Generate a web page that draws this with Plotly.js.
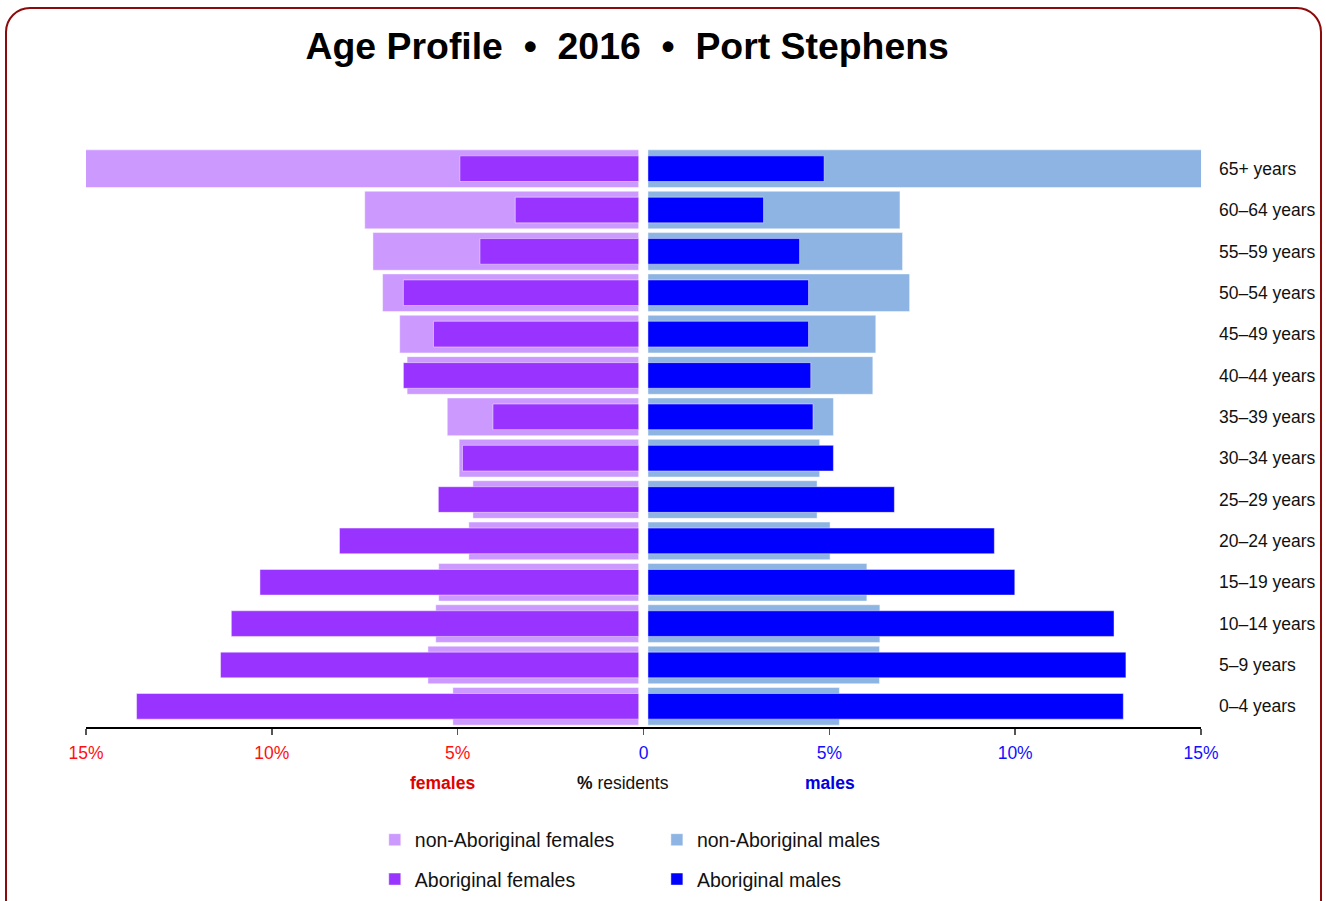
<!DOCTYPE html>
<html>
<head>
<meta charset="utf-8">
<script src="https://cdn.plot.ly/plotly-3.0.1.min.js"></script>
<style>
  html, body { margin: 0; padding: 0; background: #fff; overflow: hidden; }
  #frame { position: absolute; left: 5px; top: 7px; width: 1317px; height: 1000px;
           border: 2px solid #8b0a0a; border-radius: 25px; box-sizing: border-box; pointer-events: none; }
  #chart { position: absolute; left: 0; top: 0; width: 1326px; height: 901px; }
</style>
</head>
<body>
<div id="chart"></div>
<div id="frame"></div>
<script>
// Age groups, bottom to top
const ageGroups = ['0–4 years','5–9 years','10–14 years','15–19 years','20–24 years','25–29 years',
  '30–34 years','35–39 years','40–44 years','45–49 years','50–54 years','55–59 years','60–64 years','65+ years'];

// % residents, same order as ageGroups
const nonAbFemales = [5.00, 5.67, 5.46, 5.38, 4.57, 4.46, 4.83, 5.15, 6.23, 6.43, 6.89, 7.15, 7.37, 14.92];
const abFemales    = [13.51, 11.25, 10.96, 10.19, 8.05, 5.39, 4.74, 3.92, 6.33, 5.52, 6.33, 4.27, 3.32, 4.81];
const nonAbMales   = [5.15, 6.23, 6.24, 5.89, 4.90, 4.55, 4.62, 4.99, 6.05, 6.13, 7.04, 6.85, 6.78, 14.96];
const abMales      = [12.79, 12.86, 12.54, 9.87, 9.32, 6.63, 4.99, 4.44, 4.38, 4.32, 4.32, 4.08, 3.11, 4.74];

const tickValues = [-15, -10, -5, 0, 5, 10, 15];
const tickLabels = ['15%', '10%', '5%', '0', '5%', '10%', '15%'];

const RED = '#ff1010', BLUE = '#1010ff';
const FONT = '"Liberation Sans", Arial, sans-serif';

const tickText = tickLabels.map((t, i) =>
  '<span style="color:' + (tickValues[i] < 0 ? RED : BLUE) + '">' + t + '</span>');

const gapF = -0.13, gapM = 0.12;
const edge = { color: 'rgba(255,255,255,0.45)', width: 1 };

const traces = [
  { type: 'bar', orientation: 'h', name: 'non-Aboriginal females', y: ageGroups,
    x: nonAbFemales.map(v => -v), base: gapF, width: 0.91,
    marker: { color: '#cc99ff', line: edge }, legend: 'legend', legendgroup: 'a', cliponaxis: false, hoverinfo: 'skip' },
  { type: 'bar', orientation: 'h', name: 'non-Aboriginal males', y: ageGroups,
    x: nonAbMales, base: gapM, width: 0.91,
    marker: { color: '#8db4e2', line: edge }, legend: 'legend2', legendgroup: 'b', cliponaxis: false, hoverinfo: 'skip' },
  { type: 'bar', orientation: 'h', name: 'Aboriginal females', y: ageGroups,
    x: abFemales.map(v => -v), base: gapF, width: 0.62,
    marker: { color: '#9933ff', line: edge }, legend: 'legend', legendgroup: 'c', cliponaxis: false, hoverinfo: 'skip' },
  { type: 'bar', orientation: 'h', name: 'Aboriginal males', y: ageGroups,
    x: abMales, base: gapM, width: 0.62,
    marker: { color: '#0000ff', line: edge }, legend: 'legend2', legendgroup: 'd', cliponaxis: false, hoverinfo: 'skip' }
];

const legendCommon = {
  orientation: 'v', yref: 'container', yanchor: 'top', y: 0.0893, xanchor: 'left',
  bgcolor: 'rgba(0,0,0,0)', traceorder: 'grouped', tracegroupgap: 11,
  font: { family: FONT, size: 19.5, color: '#111' }
};

const layout = {
  width: 1326, height: 901,
  margin: { l: 86, r: 125, t: 148, b: 174, autoexpand: false },
  paper_bgcolor: 'rgba(0,0,0,0)', plot_bgcolor: 'rgba(0,0,0,0)',
  barmode: 'overlay',
  bargap: 0,
  title: {
    text: 'Age Profile\u00a0\u00a0•\u00a0\u00a02016\u00a0\u00a0•\u00a0\u00a0Port Stephens',
    x: 0.473, xanchor: 'center', y: 0.949, yanchor: 'middle',
    font: { family: FONT, size: 37.4, weight: 'bold', color: '#000' }
  },
  xaxis: {
    range: [-15, 15], fixedrange: true,
    tickvals: tickValues, ticktext: tickText,
    ticks: 'outside', ticklen: 6, tickwidth: 1.5, tickcolor: '#555',
    ticklabelstandoff: 3,
    showline: true, linecolor: '#000', linewidth: 2,
    showgrid: false, zeroline: false,
    tickfont: { family: FONT, size: 17.5 }
  },
  yaxis: {
    type: 'category', categoryorder: 'array', categoryarray: ageGroups,
    range: [-0.5, 13.5], fixedrange: true,
    side: 'right', ticks: '', showline: false, showgrid: false, zeroline: false,
    ticklabelstandoff: 17,
    tickfont: { family: FONT, size: 17.5, color: '#111' }
  },
  legend: Object.assign({}, legendCommon, { x: 0.259 }),
  legend2: Object.assign({}, legendCommon, { x: 0.512 }),
  annotations: [
    { xref: 'x', yref: 'paper', x: -5.4, y: -0.097, yanchor: 'middle', showarrow: false,
      text: '<b>females</b>', font: { family: FONT, size: 17.5, color: '#e00000' } },
    { xref: 'x', yref: 'paper', x: -0.55, y: -0.097, yanchor: 'middle', showarrow: false,
      text: '<b>%</b> residents', font: { family: FONT, size: 17.5, color: '#111' } },
    { xref: 'x', yref: 'paper', x: 5.03, y: -0.097, yanchor: 'middle', showarrow: false,
      text: '<b>males</b>', font: { family: FONT, size: 17.5, color: '#0000e0' } }
  ]
};

Plotly.newPlot('chart', traces, layout, { displayModeBar: false, staticPlot: true });
</script>
</body>
</html>
